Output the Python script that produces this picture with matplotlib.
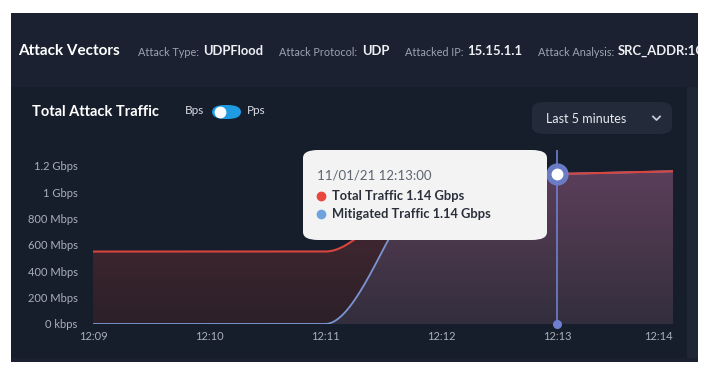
import numpy as np
import matplotlib
matplotlib.use("Agg")
import matplotlib.pyplot as plt
from matplotlib.patches import FancyBboxPatch, Rectangle
from matplotlib.lines import Line2D
from matplotlib.colors import LinearSegmentedColormap

plt.rcParams['font.family'] = ['Lato', 'DejaVu Sans']

# ---- data ----
time_labels = ["12:09", "12:10", "12:11", "12:12", "12:13", "12:14"]
total_gbps = [0.55, 0.55, 0.55, 1.13, 1.14, 1.16]
mitigated_gbps = [0.0, 0.0, 0.0, 1.13, 1.14, 1.16]
ytick_vals = [0, 0.2, 0.4, 0.6, 0.8, 1.0, 1.2]
ytick_labels = ["0 kbps", "200 Mbps", "400 Mbps", "600 Mbps", "800 Mbps", "1 Gbps", "1.2 Gbps"]
hover_index = 4

W, H = 712, 376
fig = plt.figure(figsize=(W / 100, H / 100), dpi=100, facecolor="white")


def fx(x):
    return x / W


def fy(y):
    return 1 - y / H


def rect(x0, y0, x1, y1, color, z=0, rounded=0, **kw):
    if rounded:
        p = FancyBboxPatch((fx(x0), fy(y1)), fx(x1) - fx(x0), fy(y0) - fy(y1),
                           boxstyle=f"round,pad=0,rounding_size={rounded / H}",
                           transform=fig.transFigure, facecolor=color, edgecolor="none",
                           zorder=z, mutation_aspect=1, **kw)
    else:
        p = Rectangle((fx(x0), fy(y1)), fx(x1) - fx(x0), fy(y0) - fy(y1),
                      transform=fig.transFigure, facecolor=color, edgecolor="none", zorder=z, **kw)
    fig.add_artist(p)
    return p


def txt(x, y, s, size, color, weight="normal", ha="left", z=5):
    fig.text(fx(x), fy(y), s, fontsize=size, color=color, fontweight=weight,
             ha=ha, va="center", zorder=z)


# ---- panels ----
rect(11, 13, 698, 362, "#1b2130", z=0)
rect(11, 87, 687, 358, "#171e2b", z=0.5)
rect(687, 87, 698, 358, "#1f2634", z=0.5)

# header
txt(18, 51, "Attack Vectors", 11, "white", "bold")
hdr = [(138, "Attack Type:", 203, "UDPFlood"),
       (279, "Attack Protocol:", 362, "UDP"),
       (405, "Attacked IP:", 467, "15.15.1.1"),
       (538, "Attack Analysis:", 618, "SRC_ADDR:1C")]
for xl, lab, xv, val in hdr:
    txt(xl, 52, lab, 7.8, "#9ba3b2")
    txt(xv, 51, val, 9.4, "#eef0f4", "bold")
rect(698, 0, 712, 376, "white", z=20)

# card title, toggle
txt(32, 112, "Total Attack Traffic", 10.5, "white", "bold")
txt(185, 111, "Bps", 8.5, "#d8dce4")
txt(247, 111, "Pps", 8.5, "#d8dce4")
rect(212, 105, 241, 119, "#1e9be3", z=3, rounded=7)
fig.add_artist(Line2D([fx(219.5)], [fy(112)], marker="o", markersize=8.5,
                      markerfacecolor="white", markeredgecolor="none",
                      transform=fig.transFigure, zorder=4))

# dropdown
rect(532, 102, 672, 134, "#232a39", z=3, rounded=7)
txt(546, 119, "Last 5 minutes", 9, "#e8ebf0")
fig.add_artist(Line2D([fx(653), fx(656.5), fx(660)], [fy(116.5), fy(120), fy(116.5)],
                      color="#c8ccd4", lw=1.3, transform=fig.transFigure, zorder=4))

# ---- chart axes ----
x0p, x1p, y0p = 93, 673, 324
ymax = 1.32
per_g = 131.7
ax = fig.add_axes([fx(x0p), fy(y0p), (x1p - x0p) / W, ymax * per_g / H])
ax.set_zorder(2)
ax.patch.set_alpha(0)
ax.set_xlim(0, len(time_labels) - 1)
ax.set_ylim(0, ymax)
for s in ax.spines.values():
    s.set_visible(False)


def pchip(x, y, xs):
    x = np.asarray(x, float)
    y = np.asarray(y, float)
    h = np.diff(x)
    d = np.diff(y) / h
    m = np.zeros_like(y)
    for k in range(1, len(y) - 1):
        if d[k - 1] * d[k] > 0:
            w1 = 2 * h[k] + h[k - 1]
            w2 = h[k] + 2 * h[k - 1]
            m[k] = (w1 + w2) / (w1 / d[k - 1] + w2 / d[k])
    m[0] = d[0]
    m[-1] = d[-1]
    out = np.empty_like(xs)
    for i, xv in enumerate(xs):
        k = min(max(np.searchsorted(x, xv) - 1, 0), len(x) - 2)
        t = (xv - x[k]) / h[k]
        h00 = 2 * t**3 - 3 * t**2 + 1
        h10 = t**3 - 2 * t**2 + t
        h01 = -2 * t**3 + 3 * t**2
        h11 = t**3 - t**2
        out[i] = h00 * y[k] + h10 * h[k] * m[k] + h01 * y[k + 1] + h11 * h[k] * m[k + 1]
    return out


xi = np.arange(len(time_labels))
xs = np.linspace(0, len(time_labels) - 1, 600)
tot_s = pchip(xi, total_gbps, xs)
mit_s = pchip(xi, mitigated_gbps, xs)

grad = np.linspace(0, 1, 256).reshape(-1, 1)
red_cmap = LinearSegmentedColormap.from_list("r", [(0, "#2c2029"), (0.45, "#3b252e"), (1, "#50293a")])
pur_cmap = LinearSegmentedColormap.from_list("p", [(0, "#322e3d"), (0.45, "#47364a"), (1, "#5c3f5b")])

poly_r = ax.fill_between(xs, 0, tot_s, color="none", lw=0)
im_r = ax.imshow(grad, cmap=red_cmap, origin="lower", aspect="auto",
                 extent=[0, len(time_labels) - 1, 0, 1.2], zorder=1)
im_r.set_clip_path(poly_r.get_paths()[0], transform=ax.transData)
poly_b = ax.fill_between(xs, 0, mit_s, color="none", lw=0)
im_b = ax.imshow(grad, cmap=pur_cmap, origin="lower", aspect="auto",
                 extent=[0, len(time_labels) - 1, 0, 1.2], zorder=1.5)
im_b.set_clip_path(poly_b.get_paths()[0], transform=ax.transData)
ax.set_xlim(0, len(time_labels) - 1)
ax.set_ylim(0, ymax)

ax.plot(xs, mit_s, color="#7b95d2", lw=1.3, zorder=3, solid_capstyle="round")
ax.plot(xs, tot_s, color="#d8453f", lw=1.5, zorder=3.2, solid_capstyle="round")

# hover line and markers
ax.axvline(hover_index, color="#6f7fd0", lw=1.2, zorder=4)
ax.plot([hover_index], [0], marker="o", ms=5.5, color="#6f7fd0", clip_on=False, zorder=5)
ax.plot([hover_index], [total_gbps[hover_index]], marker="o", ms=15, color="#6c7fcc",
        alpha=0.95, clip_on=False, zorder=5)
ax.plot([hover_index], [total_gbps[hover_index]], marker="o", ms=7.5, color="white",
        clip_on=False, zorder=6)

# ticks
ax.set_yticks(ytick_vals)
ax.set_yticklabels(ytick_labels)
ax.set_xticks(xi)
ax.set_xticklabels(time_labels)
ax.tick_params(axis="both", length=0, labelsize=8, labelcolor="#a9afbb")
ax.tick_params(axis="y", pad=11)
ax.tick_params(axis="x", pad=5)
lbls = ax.get_xticklabels()
lbls[-1].set_ha("right")

# tooltip
rect(303, 150, 547, 240, "#f3f3f4", z=10, rounded=8)
txt(317, 175, "11/01/21 12:13:00", 9.5, "#5d6470", z=11)
fig.add_artist(Line2D([fx(321)], [fy(196)], marker="o", ms=6, color="#e8463f",
                      transform=fig.transFigure, zorder=11))
fig.add_artist(Line2D([fx(321)], [fy(214)], marker="o", ms=6, color="#6fa3dd",
                      transform=fig.transFigure, zorder=11))
txt(332, 196, f"Total Traffic {total_gbps[hover_index]:.2f} Gbps", 9.3, "#2a2f3a", "bold", z=11)
txt(332, 214, f"Mitigated Traffic {mitigated_gbps[hover_index]:.2f} Gbps", 9.3, "#2a2f3a", "bold", z=11)

fig.savefig("out.png", dpi=100, facecolor="white")
